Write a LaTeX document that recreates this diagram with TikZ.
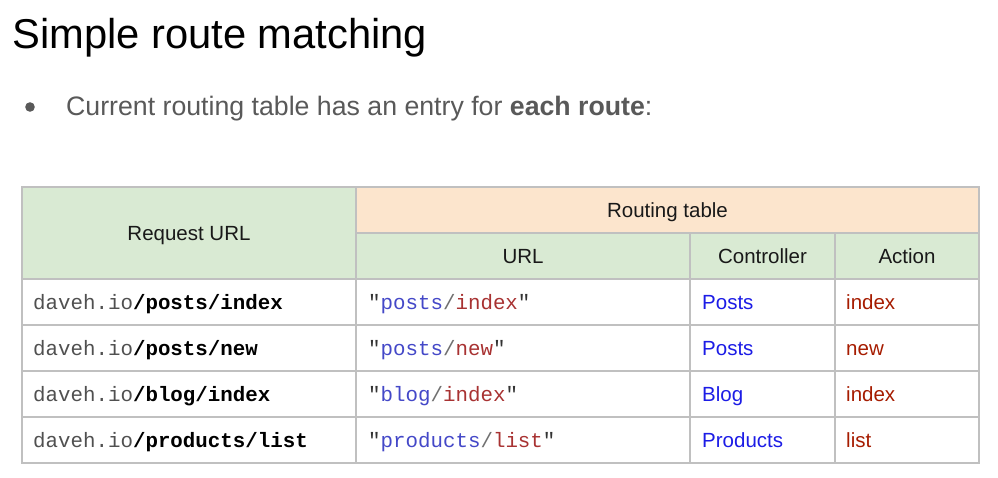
\documentclass[tikz,border=0pt]{standalone}
\usepackage{fontspec}
\setmainfont{Liberation Sans}
\setmonofont{Liberation Mono}
\definecolor{hdrgreen}{HTML}{D9EAD3}
\definecolor{hdrorange}{HTML}{FCE5CD}
\definecolor{gridgray}{HTML}{C0C0C0}
\definecolor{bulletgray}{HTML}{595959}
\definecolor{ctlblue}{HTML}{1C1CE6}
\definecolor{actred}{HTML}{A61C00}
\definecolor{codeblue}{HTML}{4448C8}
\definecolor{codered}{HTML}{A83232}
\definecolor{codeslash}{HTML}{707070}
\definecolor{hostgray}{HTML}{505050}
\newcommand{\hdrfont}{\fontsize{20.5}{24}\selectfont}
\newcommand{\monofont}{\fontsize{20.8}{24}\selectfont\ttfamily}
\newcommand{\requrl}[1]{{\color{hostgray}daveh.io}\textbf{/#1}}
\newcommand{\rturl}[2]{{\color{black!80}"}{\color{codeblue}#1}{\color{codeslash}/}{\color{codered}#2}{\color{black!80}"}}
\tikzset{
  cell/.style={inner sep=0pt, anchor=base west, font=\hdrfont},
  hcell/.style={inner sep=0pt, anchor=base, font=\hdrfont, text=black!90},
  mono/.style={inner sep=0pt, anchor=base west, font=\monofont},
  grid/.style={draw=gridgray, line width=1.2pt}
}
\begin{document}
\begin{tikzpicture}[x=1pt,y=-1pt]
\useasboundingbox (0,0) rectangle (998,477);
\fill[white] (0,0) rectangle (998,477);
% title and bullet
\node[inner sep=0pt, anchor=base west, font=\fontsize{41.7}{48}\selectfont] (title) at (12,48) {Simple route matching};
\fill[bulletgray] (30,107) circle (4.8);
\node[inner sep=0pt, anchor=base west, font=\fontsize{26.7}{32}\selectfont, text=bulletgray] (bullet) at (66,115) {Current routing table has an entry for \textbf{each route}:};
% header fills
\fill[hdrgreen] (22,187) rectangle (356,279);
\fill[hdrorange] (356,187) rectangle (979,233);
\fill[hdrgreen] (356,233) rectangle (979,279);
% grid
\draw[grid] (22,187) rectangle (979,463);
\draw[grid] (356,233) -- (979,233);
\foreach \yy in {279,325,371,417} \draw[grid] (22,\yy) -- (979,\yy);
\draw[grid] (356,187) -- (356,463);
\draw[grid] (690,233) -- (690,463);
\draw[grid] (835,233) -- (835,463);
% headers
\node[hcell] (hreq) at (189,240) {Request URL};
\node[hcell] (hrt) at (667.5,217) {Routing table};
\node[hcell] (hurl) at (523,263) {URL};
\node[hcell] (hctl) at (762.5,263) {Controller};
\node[hcell] (hact) at (907,263) {Action};
% rows
\node[mono] (r1a) at (33,309) {\requrl{posts/index}};
\node[mono] (r2a) at (33,355) {\requrl{posts/new}};
\node[mono] (r3a) at (33,401) {\requrl{blog/index}};
\node[mono] (r4a) at (33,447) {\requrl{products/list}};
\node[mono] (r1b) at (368,309) {\rturl{posts}{index}};
\node[mono] (r2b) at (368,355) {\rturl{posts}{new}};
\node[mono] (r3b) at (368,401) {\rturl{blog}{index}};
\node[mono] (r4b) at (368,447) {\rturl{products}{list}};
\node[cell, text=ctlblue] (r1c) at (702,309) {Posts};
\node[cell, text=ctlblue] (r2c) at (702,355) {Posts};
\node[cell, text=ctlblue] (r3c) at (702,401) {Blog};
\node[cell, text=ctlblue] (r4c) at (702,447) {Products};
\node[cell, text=actred] (r1d) at (846,309) {index};
\node[cell, text=actred] (r2d) at (846,355) {new};
\node[cell, text=actred] (r3d) at (846,401) {index};
\node[cell, text=actred] (r4d) at (846,447) {list};
\end{tikzpicture}
\end{document}
